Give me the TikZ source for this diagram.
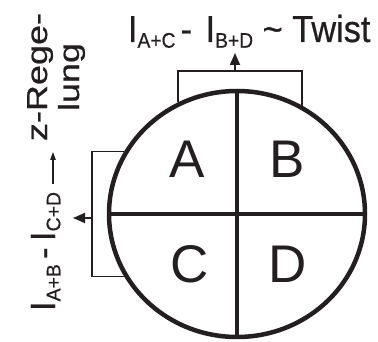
\documentclass[tikz,border=0pt]{standalone}
\usepackage{fontspec}
\setmainfont{Liberation Sans}
\newfontfamily\lblfont[FakeBold=0.6]{Liberation Sans}
\usetikzlibrary{arrows.meta,shapes.geometric}
\definecolor{ink}{HTML}{231F20}
\newcommand{\subt}[1]{\raisebox{-5pt}{\fontsize{18.5}{18}\selectfont #1}}
\begin{document}
\begin{tikzpicture}[x=1pt,y=-1pt,
  every node/.style={text=ink},
  lbl/.style={inner sep=0pt, outer sep=0pt, font=\lblfont\fontsize{33}{36}\selectfont},
  zlbl/.style={inner sep=0pt, outer sep=0pt, font=\lblfont\fontsize{34}{38}\selectfont, rotate=90, anchor=base},
  quad/.style={inner sep=0pt, font=\fontsize{53}{60}\selectfont, anchor=base},
  disc/.style={draw=ink, ellipse, line width=4.5pt, minimum width=256pt, minimum height=246pt, inner sep=0pt},
  divider/.style={draw=ink, line width=4pt},
  bracket/.style={draw=ink, line width=1.8pt},
  bigarrow/.style={bracket, -{Triangle[length=12pt,width=10pt]}},
  smallarrow/.style={draw=ink, line width=1.2pt, -{Triangle[length=8pt,width=5.5pt]}}
]
\useasboundingbox (0,0) rectangle (378,342);

% disc and quadrants
\node[disc] (disk) at (237,214) {};
\draw[divider] (disk.north) -- (disk.south);
\draw[divider] (disk.west) -- (disk.east);
\node[quad] (A) at (187,178) {A};
\node[quad] (B) at (287,178) {B};
\node[quad] (C) at (190,283) {C};
\node[quad] (D) at (288,283) {D};

% top bracket and arrow
\coordinate (tb) at (235,71);
\coordinate (tt) at (235,53);
\draw[bracket] (disk.118) |- (tb) -| (disk.59);
\draw[bigarrow] (tb) -- (tt);

% left bracket and arrow
\coordinate (lb) at (92,218);
\coordinate (lt) at (73,218);
\draw[bracket] (disk.151) -| (lb) |- (disk.209);
\draw[bigarrow] (lb) -- (lt);

% labels
\node[lbl, anchor=base west] (toptext) at (128,42)
  {\scalebox{1.04}[1.14]{I\subt{A+C}\hspace{5pt}-\hspace{13pt}I\subt{B+D} \textasciitilde{} Twist}};
\node[lbl, rotate=90, anchor=base west] (lefttext) at (55,311)
  {\scalebox{1.05}[1.06]{I\subt{A+B}\hspace{5pt}-\hspace{6pt}I\subt{C+D}}};
\coordinate (la) at (53,184);
\coordinate (lh) at (53,152);
\draw[smallarrow] (la) -- (lh);
\node[zlbl] (z1) at (47,77) {\scalebox{1.06}[0.85]{z-Rege-}};
\node[zlbl] (z2) at (79,77) {\scalebox{1.06}[0.85]{lung}};
\end{tikzpicture}
\end{document}
